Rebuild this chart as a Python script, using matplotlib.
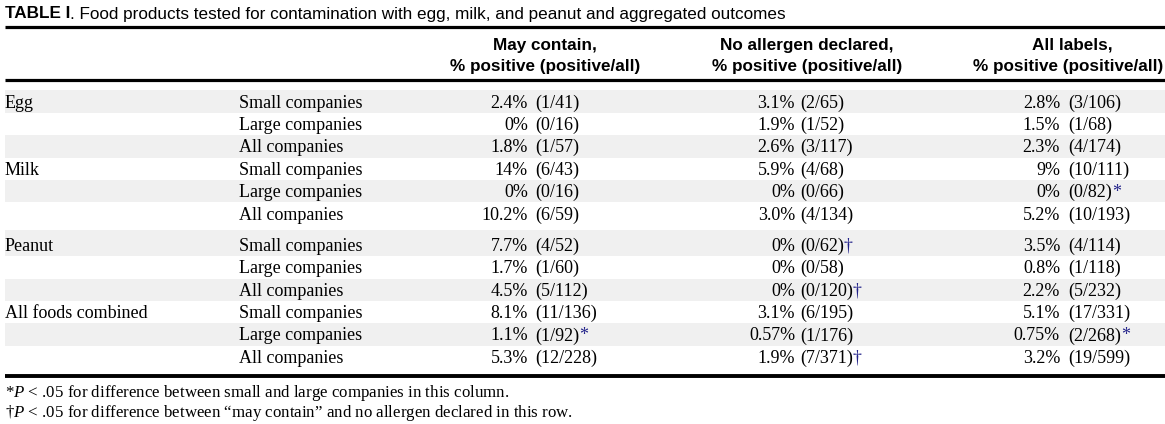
import matplotlib.pyplot as plt

plt.rcParams['mathtext.fontset'] = 'custom'
plt.rcParams['mathtext.it'] = 'Liberation Serif:italic'
plt.rcParams['mathtext.rm'] = 'Liberation Serif'

foods = ["Egg", "Milk", "Peanut", "All foods combined"]
companies = ["Small companies", "Large companies", "All companies"]
headers = [("May contain,", "% positive (positive/all)"),
           ("No allergen declared,", "% positive (positive/all)"),
           ("All labels,", "% positive (positive/all)")]

may_pct = ["2.4%", "0%", "1.8%", "14%", "0%", "10.2%", "7.7%", "1.7%", "4.5%", "8.1%", "1.1%", "5.3%"]
may_pos = [1, 0, 1, 6, 0, 6, 4, 1, 5, 11, 1, 12]
may_all = [41, 16, 57, 43, 16, 59, 52, 60, 112, 136, 92, 228]
may_mark = ["", "", "", "", "", "", "", "", "", "", "*", ""]

none_pct = ["3.1%", "1.9%", "2.6%", "5.9%", "0%", "3.0%", "0%", "0%", "0%", "3.1%", "0.57%", "1.9%"]
none_pos = [2, 1, 3, 4, 0, 4, 0, 0, 0, 6, 1, 7]
none_all = [65, 52, 117, 68, 66, 134, 62, 58, 120, 195, 176, 371]
none_mark = ["", "", "", "", "", "", "\u2020", "", "\u2020", "", "", "\u2020"]

lab_pct = ["2.8%", "1.5%", "2.3%", "9%", "0%", "5.2%", "3.5%", "0.8%", "2.2%", "5.1%", "0.75%", "3.2%"]
lab_pos = [3, 1, 4, 10, 0, 10, 4, 1, 5, 17, 2, 19]
lab_all = [106, 68, 174, 111, 82, 193, 114, 118, 232, 331, 268, 599]
lab_mark = ["", "", "", "", "*", "", "", "", "", "", "*", ""]

footnotes = ["*$P$ < .05 for difference between small and large companies in this column.",
             "\u2020$P$ < .05 for difference between \u201cmay contain\u201d and no allergen declared in this row."]

W, H = 1165, 424
fig = plt.figure(figsize=(W / 100, H / 100), dpi=100)
ax = fig.add_axes([0, 0, 1, 1])
ax.set_xlim(0, W)
ax.set_ylim(H, 0)
ax.axis('off')

sans = 'Liberation Sans'
serif = 'Liberation Serif'
mark_color = '#23238a'

# title
t = ax.text(5, 18.5, "TABLE I", family=sans, weight='bold', fontsize=12.3, va='baseline')
ax.annotate(". Food products tested for contamination with egg, milk, and peanut and aggregated outcomes",
            xy=(1, 18.5), xycoords=(t, 'data'), family=sans, fontsize=12.3, va='baseline')

# rules
ax.plot([5, W], [26.5, 26.5], color='black', lw=2.3, solid_capstyle='butt')
ax.plot([5, W], [79.5, 79.5], color='black', lw=2.3, solid_capstyle='butt')
ax.plot([5, W], [376, 376], color='black', lw=2.8, solid_capstyle='butt')

# header (last column's second line sits flush against the right edge)
head_x = [545, 807, 1072]
for i, (hx, (l1, l2)) in enumerate(zip(head_x, headers)):
    ax.text(hx, 50, l1, family=sans, weight='bold', fontsize=12.3, ha='center', va='baseline')
    if i == 2:
        ax.text(1163, 71, l2, family=sans, weight='bold', fontsize=12.3, ha='right', va='baseline')
    else:
        ax.text(hx, 71, l2, family=sans, weight='bold', fontsize=12.3, ha='center', va='baseline')

# body
step, gap = 22.4, 9
pct_right = [528, 795, 1060]
par_left = [535, 800, 1068]
cols = [(may_pct, may_pos, may_all, may_mark),
        (none_pct, none_pos, none_all, none_mark),
        (lab_pct, lab_pos, lab_all, lab_mark)]
fs = 13
for r in range(12):
    yc = 101.5 + r * step + (gap if r >= 6 else 0)
    if r % 2 == 0:
        top = yc - 11.2 - (4 if r == 6 else 0)
        ax.axhspan(top, yc + 11.2, xmin=5 / W, xmax=1, color='#f0f0f0', lw=0, zorder=0)
    yb = yc + 6
    if r % 3 == 0:
        ax.text(5, yb, foods[r // 3], family=serif, fontsize=fs, va='baseline')
    ax.text(239, yb, companies[r % 3], family=serif, fontsize=fs, va='baseline')
    for c, (pct, pos, tot, mk) in enumerate(cols):
        ax.text(pct_right[c], yb, pct[r], family=serif, fontsize=fs, ha='right', va='baseline')
        p = ax.text(par_left[c], yb, f"({pos[r]}/{tot[r]})", family=serif, fontsize=fs, va='baseline')
        if mk[r]:
            ax.annotate(mk[r], xy=(1, yb), xycoords=(p, 'data'), family=serif, fontsize=fs,
                        va='baseline', color=mark_color)

# footnotes
ax.text(5, 397, footnotes[0], family=serif, fontsize=12.2, va='baseline')
ax.text(5, 417, footnotes[1], family=serif, fontsize=12.2, va='baseline')

fig.savefig('out.png', dpi=100)
